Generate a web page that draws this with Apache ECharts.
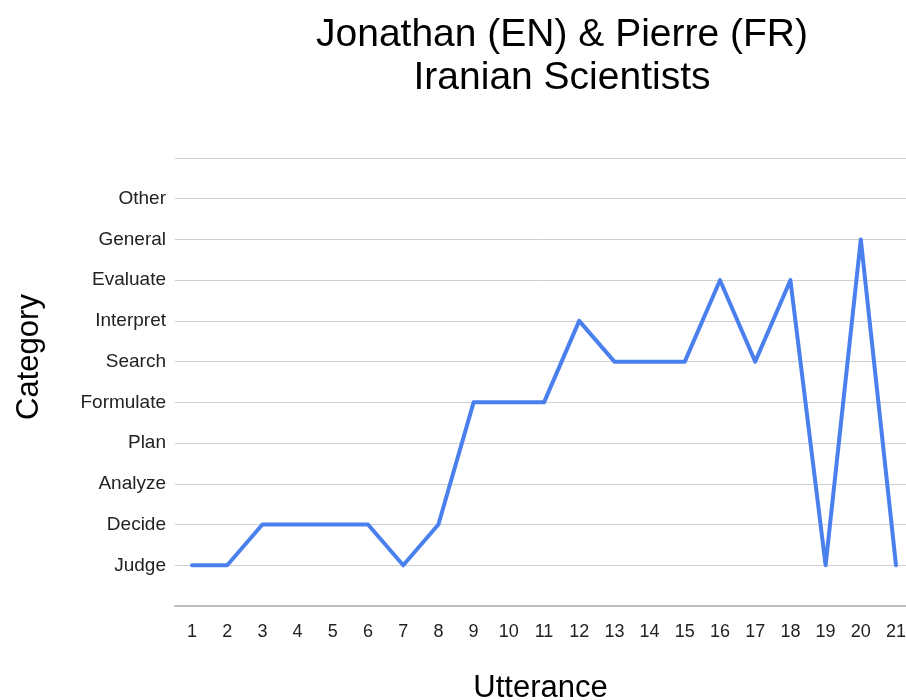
<!DOCTYPE html>
<html>
<head>
<meta charset="utf-8">
<script src="https://cdn.jsdelivr.net/npm/echarts@6/dist/echarts.min.js"></script>
<style>
  html, body { margin: 0; padding: 0; background: #fff; }
  #chart { width: 906px; height: 700px; }
</style>
</head>
<body>
<div id="chart"></div>
<script>
// y categories, bottom to top (index 0 and 11 are padding rows)
const categoryNames = ['', 'Judge', 'Decide', 'Analyze', 'Plan', 'Formulate', 'Search', 'Interpret', 'Evaluate', 'General', 'Other', ''];
const utterances = [1, 2, 3, 4, 5, 6, 7, 8, 9, 10, 11, 12, 13, 14, 15, 16, 17, 18, 19, 20, 21];
const categoryByUtterance = ['Judge', 'Judge', 'Decide', 'Decide', 'Decide', 'Decide', 'Judge', 'Decide', 'Formulate', 'Formulate',
  'Formulate', 'Interpret', 'Search', 'Search', 'Search', 'Evaluate', 'Search', 'Evaluate', 'Judge', 'General', 'Judge'];

const seriesData = utterances.map((u, i) => [u, categoryNames.indexOf(categoryByUtterance[i])]);

const font = 'Liberation Sans, Arial, Helvetica, sans-serif';
const chart = echarts.init(document.getElementById('chart'));

chart.setOption({
  animation: false,
  title: {
    text: 'Jonathan (EN) & Pierre (FR)\nIranian Scientists',
    left: 557,
    top: 9,
    textAlign: 'center',
    textStyle: { fontFamily: font, fontSize: 39, fontWeight: 'normal', color: '#000', lineHeight: 43 }
  },
  grid: { left: 175, right: 0, top: 158, bottom: 94, outerBoundsMode: 'none' },
  xAxis: {
    type: 'value',
    min: 0.517,
    max: 21.284,
    name: 'Utterance',
    nameLocation: 'middle',
    nameGap: 67,
    nameTextStyle: { fontFamily: font, fontSize: 31, color: '#000' },
    axisLine: { show: true, lineStyle: { color: '#bdbdbd', width: 2 } },
    axisTick: { show: false },
    splitLine: { show: false },
    axisLabel: {
      customValues: utterances,
      fontFamily: font, fontSize: 18, color: '#222', margin: 17
    }
  },
  yAxis: {
    type: 'value',
    min: 0,
    max: 11,
    interval: 1,
    name: 'Category',
    nameLocation: 'middle',
    nameRotate: 90,
    nameGap: 130,
    nameTextStyle: { fontFamily: font, fontSize: 31, color: '#000', padding: [0, 0, 0, 50] },
    axisLine: { show: false },
    axisTick: { show: false },
    splitLine: { lineStyle: { color: '#cfcfcf', width: 1 } },
    axisLabel: {
      fontFamily: font, fontSize: 19, color: '#222', margin: 9,
      formatter: v => categoryNames[v] || ''
    }
  },
  series: [{
    type: 'line',
    data: seriesData,
    showSymbol: false,
    lineStyle: { color: '#4a80ee', width: 4, join: 'round', cap: 'round' }
  }]
});
</script>
</body>
</html>
